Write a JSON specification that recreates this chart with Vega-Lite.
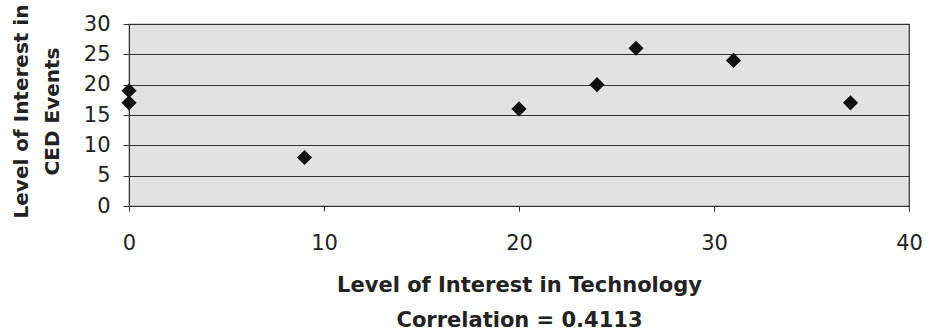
{
  "$schema": "https://vega.github.io/schema/vega-lite/v6.json",
  "width": 780,
  "height": 182,
  "autosize": "none",
  "padding": {"left": 129, "top": 24, "right": 19, "bottom": 128},
  "background": "white",
  "config": {
    "font": "DejaVu Sans",
    "view": {"fill": "#e2e2e2", "stroke": "#333333", "strokeWidth": 1.2}
  },
  "data": {
    "values": [
      {"tech": 0, "ced": 19},
      {"tech": 0, "ced": 17},
      {"tech": 9, "ced": 8},
      {"tech": 20, "ced": 16},
      {"tech": 24, "ced": 20},
      {"tech": 26, "ced": 26},
      {"tech": 31, "ced": 24},
      {"tech": 37, "ced": 17}
    ]
  },
  "mark": {"type": "point", "shape": "diamond", "filled": true, "size": 230, "color": "#111111", "opacity": 1, "clip": false},
  "encoding": {
    "x": {
      "field": "tech",
      "type": "quantitative",
      "scale": {"domain": [0, 40], "nice": false, "zero": false},
      "axis": {
        "values": [0, 10, 20, 30, 40],
        "grid": false,
        "domainColor": "#333333",
        "tickColor": "#333333",
        "tickSize": 5,
        "labelFont": "DejaVu Sans",
        "labelFontSize": 21,
        "labelColor": "#222222",
        "labelPadding": 21,
        "labelFlush": false,
        "title": ["Level of Interest in Technology", "Correlation = 0.4113"],
        "titleFont": "DejaVu Sans",
        "titleFontSize": 21,
        "titleFontWeight": "bold",
        "titleColor": "#222222",
        "titleLineHeight": 35,
        "titlePadding": 21
      }
    },
    "y": {
      "field": "ced",
      "type": "quantitative",
      "scale": {"domain": [0, 30], "nice": false},
      "axis": {
        "values": [0, 5, 10, 15, 20, 25, 30],
        "grid": true,
        "gridColor": "#333333",
        "gridWidth": 1,
        "domainColor": "#333333",
        "tickColor": "#333333",
        "tickSize": 6,
        "labelFont": "DejaVu Sans",
        "labelFontSize": 21,
        "labelColor": "#222222",
        "labelPadding": 13,
        "title": ["Level of Interest in", "CED Events"],
        "titleFont": "DejaVu Sans",
        "titleFontSize": 20,
        "titleFontWeight": "bold",
        "titleColor": "#222222",
        "titleLineHeight": 31,
        "titlePadding": 21,
        "titleY": 87
      }
    }
  }
}
